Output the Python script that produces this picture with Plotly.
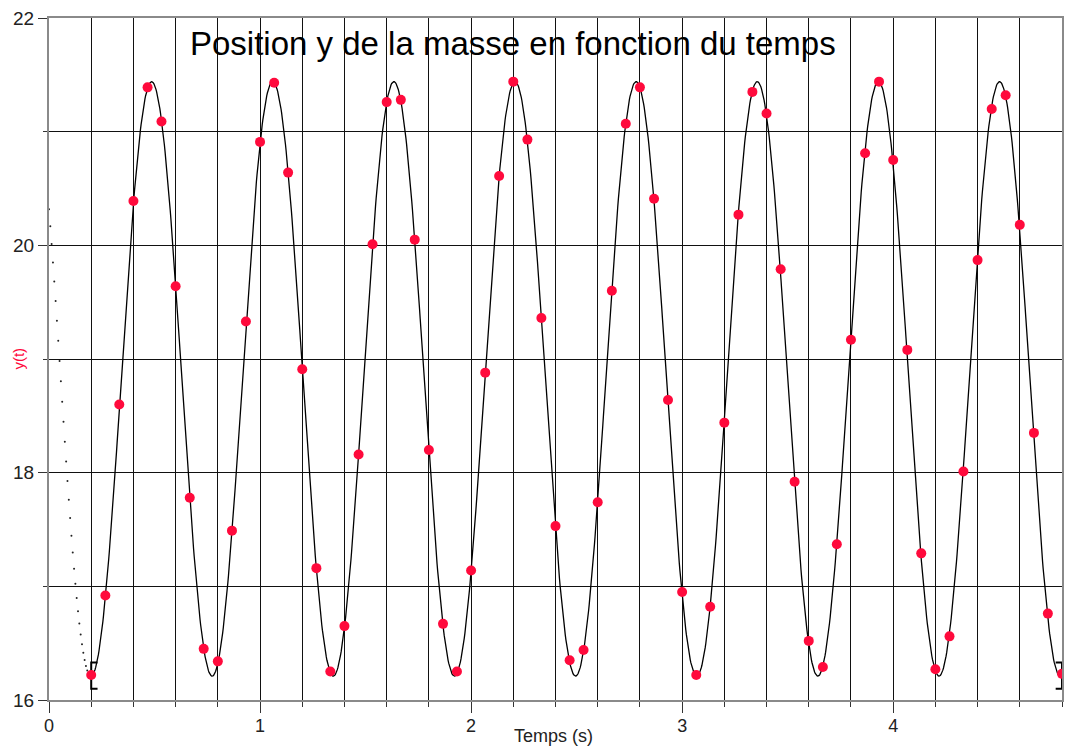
import numpy as np
import plotly.graph_objects as go

# ---- measured data (time in s, position y) ----
t_meas = [0.200, 0.267, 0.333, 0.400, 0.467, 0.533, 0.600, 0.667, 0.733, 0.800,
          0.867, 0.933, 1.000, 1.067, 1.133, 1.200, 1.267, 1.333, 1.400, 1.467,
          1.533, 1.600, 1.667, 1.733, 1.800, 1.867, 1.933, 2.000, 2.067, 2.133,
          2.200, 2.267, 2.333, 2.400, 2.467, 2.533, 2.600, 2.667, 2.733, 2.800,
          2.867, 2.933, 3.000, 3.067, 3.133, 3.200, 3.267, 3.333, 3.400, 3.467,
          3.533, 3.600, 3.667, 3.733, 3.800, 3.867, 3.933, 4.000, 4.067, 4.133,
          4.200, 4.267, 4.333, 4.400, 4.467, 4.533, 4.600, 4.667, 4.733, 4.800]
y_meas = [16.22, 16.92, 18.60, 20.39, 21.39, 21.09, 19.64, 17.78, 16.45, 16.34,
          17.49, 19.33, 20.91, 21.43, 20.64, 18.91, 17.16, 16.25, 16.65, 18.16,
          20.01, 21.26, 21.28, 20.05, 18.20, 16.67, 16.25, 17.14, 18.88, 20.61,
          21.44, 20.93, 19.36, 17.53, 16.35, 16.44, 17.74, 19.60, 21.07, 21.39,
          20.41, 18.64, 16.95, 16.22, 16.82, 18.44, 20.27, 21.35, 21.16, 19.79,
          17.92, 16.52, 16.29, 17.37, 19.17, 20.81, 21.44, 20.75, 19.08, 17.29,
          16.27, 16.56, 18.01, 19.87, 21.20, 21.32, 20.18, 18.35, 16.76, 16.23]

# ---- sinusoidal model parameters ----
model_offset = 18.825
model_amplitude = 2.615
model_period = 0.574
model_peak_time = 0.486
model_range = [0.2, 4.8]        # fitted interval (brackets)
extension_range = [0.0, 0.2]    # dotted extrapolation

x_ticks = [0, 1, 2, 3, 4]
y_ticks = [16, 18, 20, 22]


def model(t):
    return model_offset + model_amplitude * np.cos(2 * np.pi * (t - model_peak_time) / model_period)


t_fit = np.linspace(model_range[0], model_range[1], 1500)
t_ext = np.linspace(extension_range[0], extension_range[1], 33)

RED = "#ff0a3c"
GRID = "#111111"
AXIS = "#8a8a8a"
FONT = "Liberation Sans, Arial, sans-serif"

fig = go.Figure()

# dotted extrapolation
fig.add_trace(go.Scatter(x=t_ext, y=model(t_ext), mode="markers",
                         marker=dict(color="#222222", size=2), hoverinfo="skip"))

# model curve
fig.add_trace(go.Scatter(x=t_fit, y=model(t_fit), mode="lines",
                         line=dict(color="black", width=1.3), hoverinfo="skip"))

# range brackets
bw = 0.03
by = [16.10, 16.33]
fig.add_trace(go.Scatter(x=[model_range[0] + bw, model_range[0], model_range[0], model_range[0] + bw],
                         y=[by[1], by[1], by[0], by[0]], mode="lines",
                         line=dict(color="black", width=2), hoverinfo="skip"))
fig.add_trace(go.Scatter(x=[model_range[1] - bw, model_range[1], model_range[1], model_range[1] - bw],
                         y=[by[1], by[1], by[0], by[0]], mode="lines",
                         line=dict(color="black", width=2), hoverinfo="skip", cliponaxis=False))

# measured points
fig.add_trace(go.Scatter(x=t_meas, y=y_meas, mode="markers",
                         marker=dict(color=RED, size=10, line=dict(width=0)),
                         cliponaxis=True))

fig.update_layout(
    width=1072, height=747,
    margin=dict(l=49, r=8, t=15, b=47),
    paper_bgcolor="white", plot_bgcolor="white",
    showlegend=False,
    font=dict(family=FONT, size=18, color="#222222"),
    xaxis=dict(range=[0, 4.8], tickvals=x_ticks, ticktext=[str(v) for v in x_ticks],
               showgrid=True, gridcolor=GRID, gridwidth=1.2,
               ticks="outside", ticklen=11, tickwidth=1, tickcolor="#333333",
               ticklabelstandoff=-3,
               minor=dict(dtick=0.2, tick0=0, showgrid=True, gridcolor=GRID, gridwidth=1.2,
                          ticks="outside", ticklen=5, tickcolor="#333333"),
               showline=True, linecolor=AXIS, linewidth=2, mirror=True,
               zeroline=False, tickfont=dict(size=18, color="#222222")),
    yaxis=dict(range=[16, 22], tickvals=y_ticks, ticktext=[str(v) for v in y_ticks],
               showgrid=True, gridcolor=GRID, gridwidth=1.2,
               ticks="outside", ticklen=9, tickwidth=1, tickcolor="#333333",
               minor=dict(dtick=1, tick0=16, showgrid=True, gridcolor=GRID, gridwidth=1.2,
                          ticks="outside", ticklen=4, tickcolor="#333333"),
               showline=True, linecolor=AXIS, linewidth=2, mirror=True,
               zeroline=False, tickfont=dict(size=19, color="#222222")),
)

# white box behind title (hides grid lines)
fig.add_shape(type="rect", xref="paper", yref="paper", x0=0.132, x1=0.786, y0=0.934, y1=0.999,
              fillcolor="white", line=dict(width=0), layer="between")

fig.add_annotation(text="Position y de la masse en fonction du temps", xref="paper", yref="paper",
                   x=0.458, y=0.962, xanchor="center", yanchor="middle", showarrow=False,
                   font=dict(size=33, color="black", family=FONT))
fig.add_annotation(text="y(t)", xref="paper", yref="paper", x=-0.031, y=0.5, textangle=-90,
                   xanchor="center", yanchor="middle", showarrow=False,
                   font=dict(size=15, color=RED, family=FONT))
fig.add_annotation(text="Temps (s)", xref="paper", yref="paper", x=0.4985, y=-0.053,
                   xanchor="center", yanchor="middle", showarrow=False,
                   font=dict(size=18, color="#222222", family=FONT))

fig.write_html("out.html", config={"displayModeBar": False},
               post_script="document.body.style.margin='0';")
